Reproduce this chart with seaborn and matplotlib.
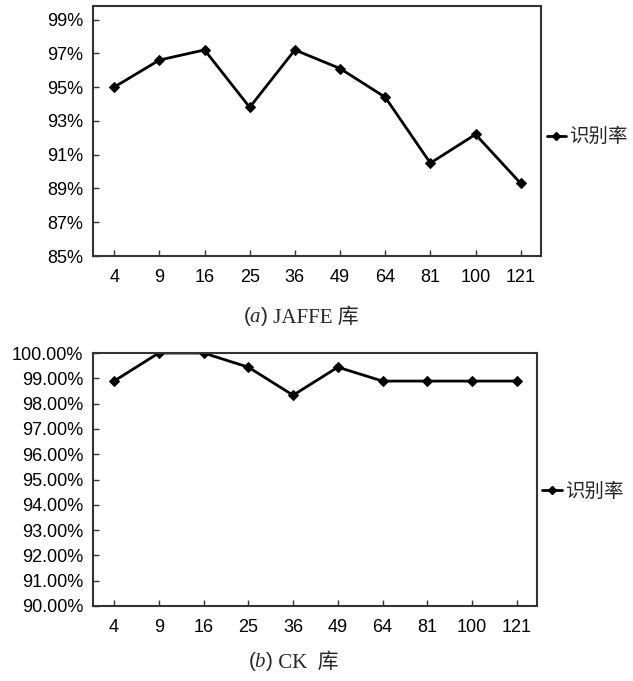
import matplotlib
matplotlib.use("Agg")
import matplotlib.pyplot as plt
import seaborn as sns
import pandas as pd
from matplotlib.ticker import PercentFormatter, FixedLocator
from matplotlib.lines import Line2D

categories = ["4", "9", "16", "25", "36", "49", "64", "81", "100", "121"]
jaffe_rate = [95.0, 96.6, 97.2, 93.8, 97.2, 96.1, 94.4, 90.5, 92.2, 89.3]
ck_rate = [98.89, 100.0, 100.0, 99.44, 98.33, 99.44, 98.89, 98.89, 98.89, 98.89]
jaffe_ticks = [85, 87, 89, 91, 93, 95, 97, 99]
ck_ticks = [90, 91, 92, 93, 94, 95, 96, 97, 98, 99, 100]
series_name = "识别率"
cap_a_letter = "a"
cap_a_rest = " JAFFE 库"
cap_b_letter = "b"
cap_b_rest = " CK  库"

sns.set_theme(style="white")
plt.rcParams["font.family"] = ["Liberation Sans", "Noto Sans CJK SC", "DejaVu Sans"]
plt.rcParams["mathtext.fontset"] = "custom"
plt.rcParams["mathtext.rm"] = "Liberation Serif"
plt.rcParams["mathtext.it"] = "Liberation Serif:italic"

W, H = 633, 681
fig = plt.figure(figsize=(W / 100, H / 100), dpi=100)

def axes_px(l, t, r, b):
    return fig.add_axes([l / W, 1 - b / H, (r - l) / W, (b - t) / H])

ax1 = axes_px(93, 6, 541, 256)
ax2 = axes_px(93, 353, 537, 606)

def draw(ax, vals, ylim, ticks, decimals, leg_y):
    df = pd.DataFrame({"k": categories, "rate": vals})
    sns.lineplot(data=df, x="k", y="rate", ax=ax, color="black", linewidth=2,
                 marker="D", markersize=5, markeredgecolor="black", sort=False)
    ax.set_xlim(-0.47, len(categories) - 1 + 0.45)
    ax.set_ylim(*ylim)
    ax.yaxis.set_major_locator(FixedLocator(ticks))
    ax.yaxis.set_major_formatter(PercentFormatter(100, decimals=decimals))
    ax.set_xlabel("")
    ax.set_ylabel("")
    for s in ax.spines.values():
        s.set_visible(True)
        s.set_color("#333333")
        s.set_linewidth(1.5)
    ax.tick_params(axis="x", direction="in", length=4, width=1, color="#333333",
                   bottom=True, labelsize=13, pad=9, labelcolor="black")
    ax.tick_params(axis="y", direction="in", length=4, width=1, color="#333333",
                   left=True, labelsize=13, pad=7, labelcolor="black")
    h = Line2D([], [], color="black", linewidth=2, marker="D", markersize=4)
    ax.legend([h], [series_name], loc="center left", bbox_to_anchor=(1.008, leg_y),
              frameon=False, handlelength=1.0, handletextpad=0.15, borderaxespad=0.0,
              borderpad=0.1, fontsize=14)

draw(ax1, jaffe_rate, (85, 99.8), jaffe_ticks, 0, 0.475)
draw(ax2, ck_rate, (90, 100), ck_ticks, 2, 0.45)

cap_fam = ["Liberation Serif", "Noto Sans CJK SC"]

def caption(x_left, y, letter, rest):
    t1 = fig.text(x_left / W, 1 - y / H, "($\\mathit{" + letter + "}$)", ha="left",
                  va="baseline", fontsize=15)
    fig.axes[0].annotate(rest, xy=(1.0, 0.0), xycoords=t1, xytext=(0, 0),
                         textcoords="offset points", ha="left", va="bottom",
                         fontsize=15, family=cap_fam, annotation_clip=False)

caption(243, 322, cap_a_letter, cap_a_rest)
caption(248, 667, cap_b_letter, cap_b_rest)

fig.savefig("out.png", dpi=100, facecolor="white")
